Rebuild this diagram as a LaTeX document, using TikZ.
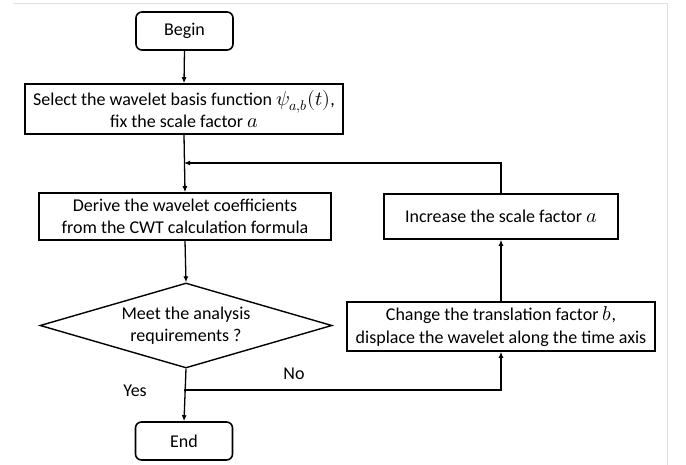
\documentclass[tikz,border=0pt]{standalone}
\usepackage{fontspec}
\usepackage{unicode-math}
\setmainfont{Carlito}
\setmathfont{Latin Modern Math}[Scale=1.12]
\usetikzlibrary{arrows.meta}
\usetikzlibrary{shapes.geometric}

\begin{document}
\begin{tikzpicture}[
  x=1pt, y=-1pt,
  font=\fontsize{18}{22.5}\selectfont,
  stepbox/.style 2 args={
    rectangle,
    draw,
    line width=1.6pt,
    inner sep=0pt,
    align=center,
    minimum width=#1,
    minimum height=#2},
  termbox/.style={
    stepbox={97pt}{38pt},
    rounded corners=6pt},
  decide/.style={
    diamond,
    draw,
    aspect=3.44,
    line width=1.4pt,
    inner sep=0pt,
    align=center,
    minimum width=292pt,
    minimum height=85pt},
  flow/.style={line width=1.3pt,-{Latex[length=6pt,width=5pt]}},
  frame/.style={gray!25,line width=0.8pt}]
  % page and screenshot frame
  \useasboundingbox (0,0) rectangle (686,465);
  \draw[frame] (13,3.3) -- (667,3.3) -- (667,465);
  % main column
  \node[termbox] (begin) at (184.5,31) {Begin};
  \node[stepbox={318pt}{50pt}] (select) at (184,109)
    {Select the wavelet basis function $\psi_{a,b}(t)$,\\ fix the scale factor $a$};
  \node[stepbox={292pt}{47pt}] (derive) at (185,216.5)
    {Derive the wavelet coefficients\\ from the CWT calculation formula};
  \node[decide] (meet) at (186,325.5) {Meet the analysis\\ requirements ?};
  \node[termbox] (end) at (184,441) {End};
  % loop column
  \node[stepbox={308pt}{49pt}] (change) at (501,326.5)
    {Change the translation factor $b$,\\ displace the wavelet along the time axis};
  \node[stepbox={234pt}{45pt}] (increase) at (501,216.5) {Increase the scale factor $a$};
  % junctions
  \coordinate (merge) at (184,163);
  \coordinate (split) at (184,390);
  % connectors
  \draw[flow] (begin.south) -- (select.north);
  \draw[flow] (select.south) -- (derive.north);
  \draw[flow] (derive.south) -- (meet.north);
  \draw[flow] (meet.south) -- (end.north);
  \draw[flow] (split) -| (change.south);
  \draw[flow] (change.north) -- (increase.south);
  \draw[flow] (increase.north) |- (merge);
  % branch labels
  \node (yes) at (135,391) {Yes};
  \node (no) at (294,374) {No};
\end{tikzpicture}
\end{document}
